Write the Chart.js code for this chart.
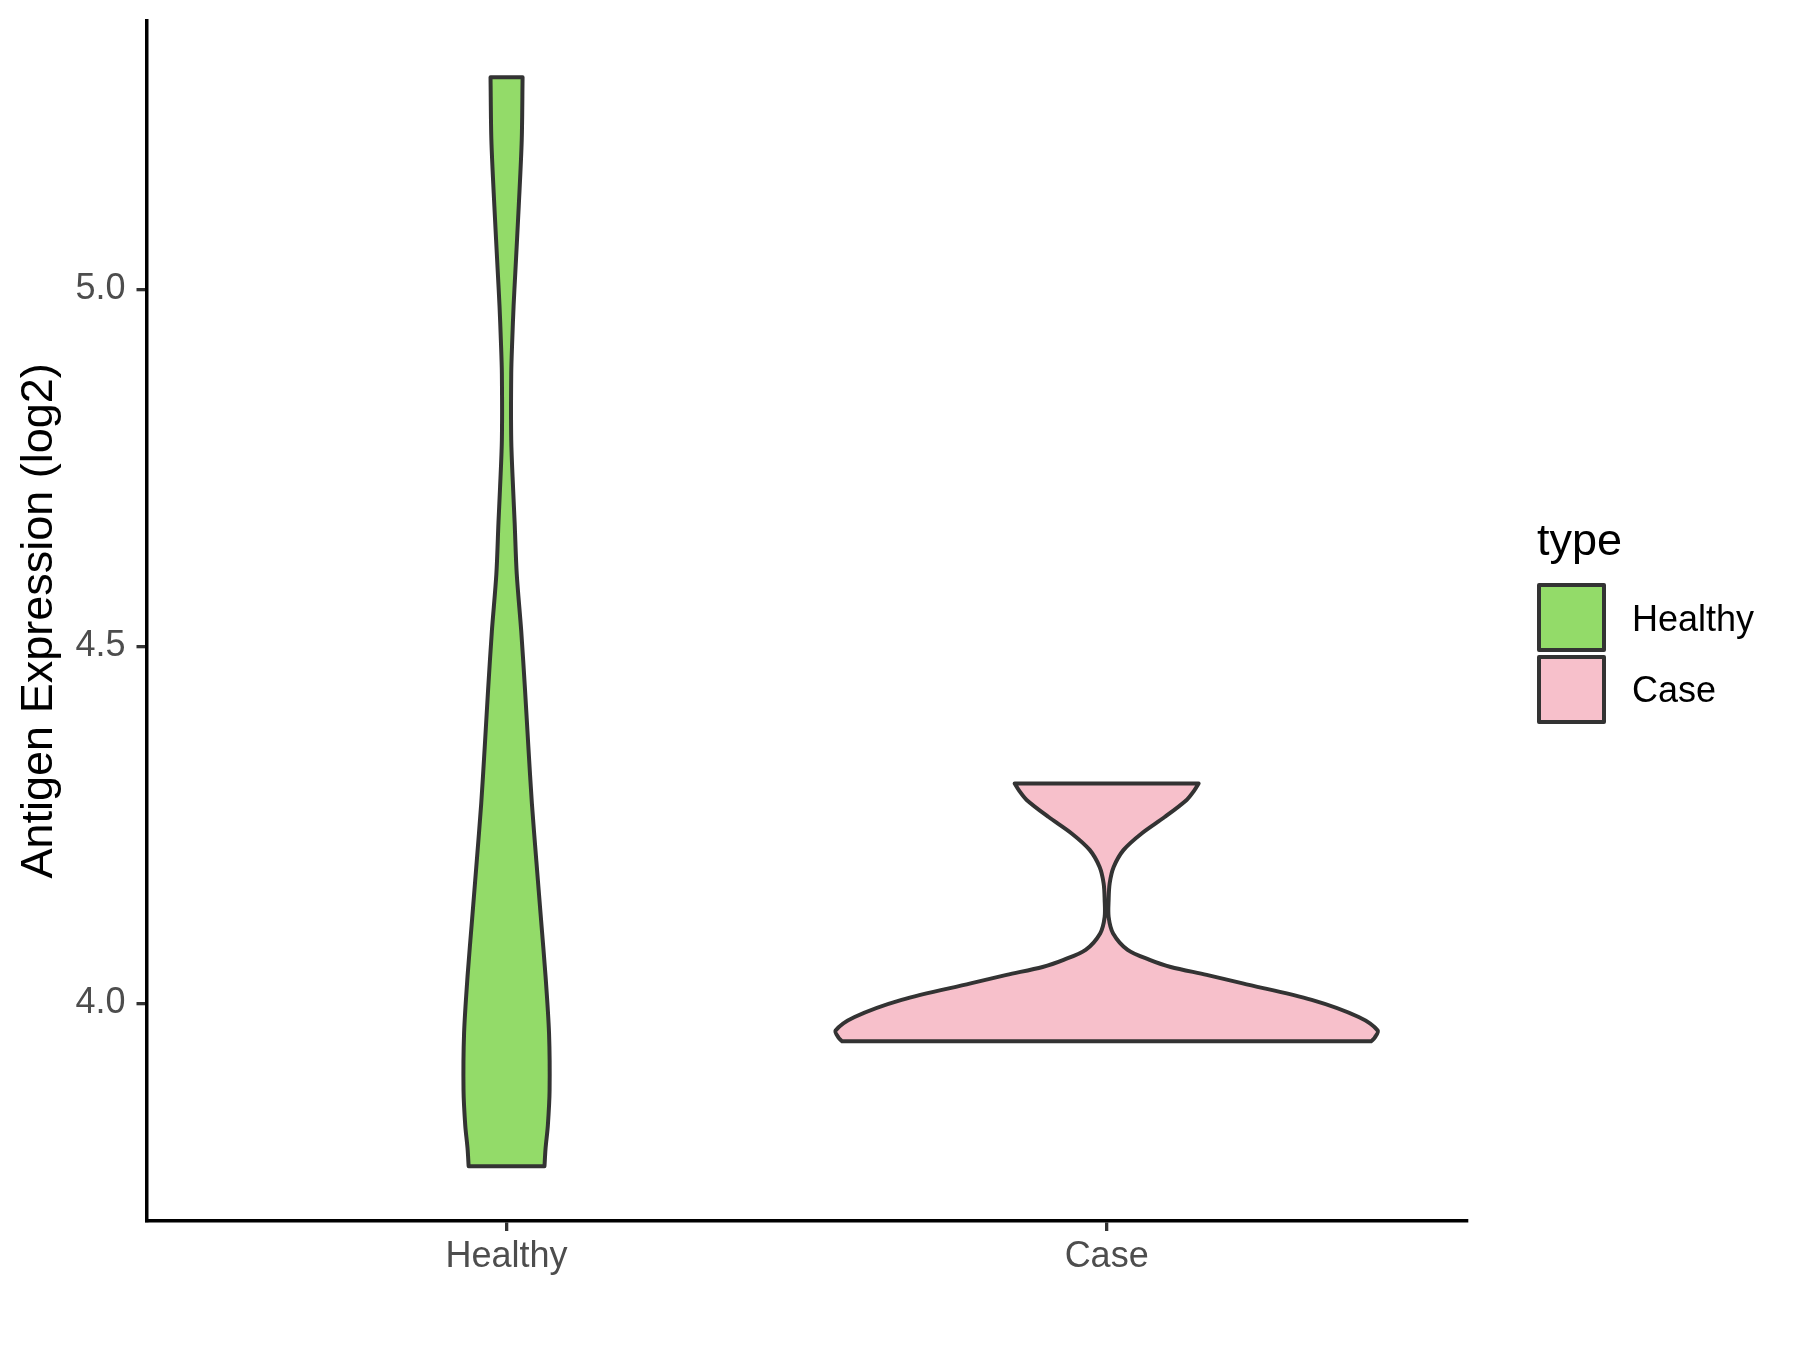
<!DOCTYPE html>
<html><head><meta charset="utf-8">
<script src="https://cdn.jsdelivr.net/npm/chart.js@4/dist/chart.umd.min.js"></script>
<style>html,body{margin:0;padding:0;background:#fff}#wrap{width:1800px;height:1350px}</style>
</head><body><div id="wrap"><canvas id="c" width="1800" height="1350"></canvas></div>
<script>
// ---- data ----
const categories = ['Healthy', 'Case'];
const yTicks = [4.0, 4.5, 5.0];
const legendTitle = 'type';
const yAxisTitle = 'Antigen Expression (log2)';
// violin outline: expression levels (bottom -> top) and half-width of the density (x-axis units)
const healthyLevels    = [3.772, 3.797, 3.829, 3.878, 3.958, 4.038, 4.119, 4.199, 4.280, 4.360, 4.440, 4.521, 4.601, 4.673, 4.719, 4.789, 4.882, 4.929, 4.976, 5.022, 5.116, 5.209, 5.297];
const healthyHalfWidth = [0.0632, 0.0650, 0.0688, 0.0717, 0.0708, 0.0650, 0.0573, 0.0497, 0.0422, 0.0363, 0.0307, 0.0245, 0.0170, 0.0135, 0.0110, 0.0078, 0.0078, 0.0095, 0.0117, 0.0145, 0.0203, 0.0253, 0.0267];
const caseLevels       = [3.947, 3.952, 3.962, 3.981, 4.005, 4.028, 4.040, 4.051, 4.061, 4.075, 4.098, 4.121, 4.145, 4.168, 4.191, 4.215, 4.238, 4.261, 4.285, 4.297, 4.308];
const caseHalfWidth    = [0.4408, 0.4467, 0.4517, 0.4200, 0.3417, 0.2267, 0.1667, 0.1067, 0.0717, 0.0350, 0.0108, 0.0033, 0.0033, 0.0050, 0.0117, 0.0283, 0.0583, 0.0967, 0.1333, 0.1450, 0.1533];
const fillColors = ['#93DB69', '#F7C0CB'];

const FONT = '"Liberation Sans", Arial, Helvetica, sans-serif';

// closed outline: right side up, across the trimmed top, left side down, across the trimmed bottom.
// Corner points are repeated so the smoothed curve keeps straight, flat ends.
function outline(center, levels, hw) {
  const n = levels.length;
  const pts = [];
  for (let i = 0; i < n; i++) {
    const p = {x: center + hw[i], y: levels[i]};
    pts.push(p);
    if (i === 0 || i === n - 1) pts.push({x: p.x, y: p.y});
  }
  for (let i = n - 1; i >= 0; i--) {
    const p = {x: center - hw[i], y: levels[i]};
    pts.push(p);
    if (i === 0 || i === n - 1) pts.push({x: p.x, y: p.y});
  }
  pts.push({x: center + hw[0], y: levels[0]});
  return pts;
}

const groups = [
  {levels: healthyLevels, hw: healthyHalfWidth},
  {levels: caseLevels, hw: caseHalfWidth}
];

const datasets = groups.map((g, i) => ({
  label: categories[i],
  data: outline(i + 1, g.levels, g.hw),
  showLine: true,
  fill: 'shape',
  backgroundColor: fillColors[i],
  borderColor: '#333333',
  borderWidth: 4,
  borderJoinStyle: 'round',
  borderCapStyle: 'round',
  pointRadius: 0,
  pointHoverRadius: 0,
  tension: 0.3,
  capBezierPoints: false
}));

const legendPlugin = {
  id: 'ggLegend',
  afterDraw(chart) {
    const ctx = chart.ctx;
    ctx.save();
    ctx.fillStyle = '#000000';
    ctx.font = '45px ' + FONT;
    ctx.textAlign = 'left';
    ctx.textBaseline = 'alphabetic';
    ctx.fillText(legendTitle, 1537, 555);
    const keyX = 1539, keyY = [585, 657], keyS = 65;
    const baselines = [631, 702];
    categories.forEach((c, i) => {
      ctx.fillStyle = fillColors[i];
      ctx.fillRect(keyX, keyY[i], keyS, keyS);
      ctx.strokeStyle = '#333333';
      ctx.lineWidth = 4;
      ctx.lineJoin = 'round';
      ctx.strokeRect(keyX, keyY[i], keyS, keyS);
      ctx.fillStyle = '#000000';
      ctx.font = '36px ' + FONT;
      ctx.fillText(c, 1632, baselines[i]);
    });
    ctx.restore();
  }
};

new Chart(document.getElementById('c'), {
  type: 'scatter',
  data: {datasets},
  plugins: [legendPlugin],
  options: {
    responsive: false,
    animation: false,
    devicePixelRatio: 1,
    layout: {padding: {left: 0, top: 20.7, right: 333.3, bottom: 0}},
    plugins: {legend: {display: false}, tooltip: {enabled: false}},
    scales: {
      x: {
        type: 'linear', min: 0.4, max: 2.6,
        afterFit(s) { s.height = 129; s.paddingLeft = 0; s.paddingRight = 0; },
        afterBuildTicks(s) { s.ticks = categories.map((c, i) => ({value: i + 1})); },
        ticks: {callback: (v) => categories[v - 1], font: {family: FONT, size: 36}, color: '#4D4D4D', padding: 4, maxRotation: 0, autoSkip: false},
        grid: {display: true, drawOnChartArea: false, drawTicks: true, tickLength: 10, color: '#333333', lineWidth: 3.3},
        border: {display: true, color: '#000000', width: 3.5}
      },
      y: {
        type: 'linear', min: 3.6953, max: 5.3761,
        afterFit(s) { s.width = 146.5; s.paddingTop = 0; s.paddingBottom = 0; },
        afterBuildTicks(s) { s.ticks = yTicks.map(v => ({value: v})); },
        ticks: {callback: (v) => Number(v).toFixed(1), font: {family: FONT, size: 36}, color: '#4D4D4D', padding: 11, autoSkip: false},
        grid: {display: true, drawOnChartArea: false, drawTicks: true, tickLength: 10, color: '#333333', lineWidth: 3.3},
        border: {display: true, color: '#000000', width: 3.5},
        title: {display: true, text: yAxisTitle, font: {family: FONT, size: 45}, color: '#000000', padding: {top: 13, bottom: 0}}
      }
    }
  }
});
</script></body></html>
